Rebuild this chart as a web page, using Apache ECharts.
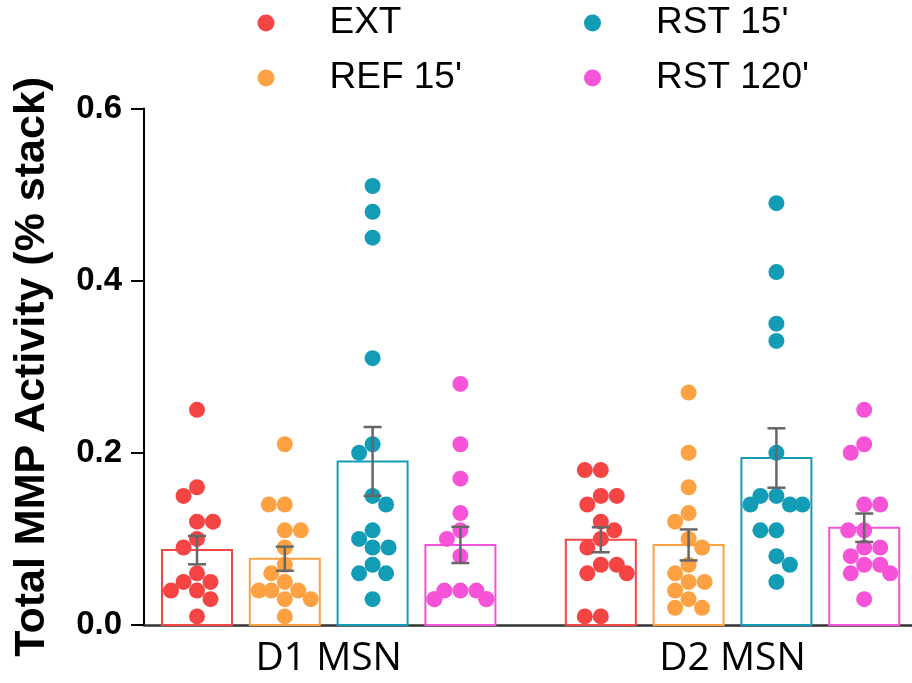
<!DOCTYPE html>
<html>
<head>
<meta charset="utf-8">
<script src="https://cdn.jsdelivr.net/npm/echarts@6/dist/echarts.min.js"></script>
<style>html,body{margin:0;padding:0;background:#fff}#c{width:912px;height:683px}</style>
</head>
<body>
<div id="c"></div>
<script>
// ---- data ----
const categories = ['D1 MSN', 'D2 MSN'];
const groupNames = ['EXT', "REF 15'", "RST 15'", "RST 120'"];
const yTicks = [0, 0.2, 0.4, 0.6];

const extD1    = [0.25,0.16,0.15,0.12,0.12,0.10,0.09,0.06,0.05,0.05,0.04,0.04,0.03,0.01];
const extD2    = [0.18,0.18,0.15,0.15,0.14,0.12,0.11,0.10,0.09,0.07,0.07,0.06,0.06,0.01,0.01];
const refD1    = [0.21,0.14,0.14,0.11,0.11,0.09,0.07,0.06,0.05,0.04,0.04,0.04,0.03,0.03,0.01];
const refD2    = [0.27,0.20,0.16,0.13,0.12,0.10,0.09,0.07,0.06,0.05,0.05,0.04,0.03,0.02,0.02];
const rst15D1  = [0.51,0.48,0.45,0.31,0.21,0.20,0.15,0.14,0.11,0.10,0.09,0.09,0.07,0.06,0.06,0.03];
const rst15D2  = [0.49,0.41,0.35,0.33,0.20,0.15,0.15,0.14,0.14,0.14,0.11,0.11,0.08,0.07,0.05];
const rst120D1 = [0.28,0.21,0.17,0.13,0.11,0.10,0.08,0.04,0.04,0.04,0.03,0.03,0.03,0.03];
const rst120D2 = [0.25,0.21,0.20,0.14,0.14,0.11,0.11,0.09,0.09,0.08,0.07,0.07,0.06,0.06,0.03];

const extMean    = [0.087, 0.099];
const refMean    = [0.077, 0.093];
const rst15Mean  = [0.190, 0.194];
const rst120Mean = [0.093, 0.113];
const extSem     = [0.0165, 0.0145];
const refSem     = [0.014, 0.018];
const rst15Sem   = [0.040, 0.0345];
const rst120Sem  = [0.021, 0.0165];

// ---- styling / layout ----
const colors = ['#F54444', '#FDA143', '#129CB6', '#F653D8'];
const BAR_W = 70;        // px
const BAR_PITCH = 87.8;  // px
const DOT = 16;          // px
const points = [[extD1, extD2], [refD1, refD2], [rst15D1, rst15D2], [rst120D1, rst120D2]];
const means = [extMean, refMean, rst15Mean, rst120Mean];
const sems = [extSem, refSem, rst15Sem, rst120Sem];

const chart = echarts.init(document.getElementById('c'), null, {renderer: 'canvas'});

function barSeries(k) {
  return {
    type: 'custom', name: groupNames[k], z: 1, clip: false,
    itemStyle: {color: colors[k]},
    data: categories.map((c, i) => [i, means[k][i], sems[k][i]]),
    renderItem: function (params, api) {
      const base = api.coord([api.value(0), 0]);
      const top = api.coord([api.value(0), api.value(1)]);
      const cx = base[0] + (k - 1.5) * BAR_PITCH;
      return {
        type: 'rect',
        shape: {x: cx - BAR_W / 2, y: top[1], width: BAR_W, height: base[1] - top[1]},
        style: {fill: '#ffffff', stroke: colors[k], lineWidth: 2}
      };
    }
  };
}
function errSeries(k) {
  return {
    type: 'custom', name: groupNames[k], z: 5, clip: false,
    itemStyle: {color: colors[k]},
    data: categories.map((c, i) => [i, means[k][i], sems[k][i]]),
    renderItem: function (params, api) {
      const x = api.value(0), m = api.value(1), s = api.value(2);
      const hi = api.coord([x, m + s]);
      const lo = api.coord([x, m - s]);
      const cx = hi[0] + (k - 1.5) * BAR_PITCH;
      const st = {stroke: '#666666', lineWidth: 2.5};
      const cap = 9;
      return {
        type: 'group',
        children: [
          {type: 'line', shape: {x1: cx, y1: hi[1], x2: cx, y2: lo[1]}, style: st},
          {type: 'line', shape: {x1: cx - cap, y1: hi[1], x2: cx + cap, y2: hi[1]}, style: st},
          {type: 'line', shape: {x1: cx - cap, y1: lo[1], x2: cx + cap, y2: lo[1]}, style: st}
        ]
      };
    }
  };
}

const baseOption = {
  animation: false,
  backgroundColor: '#ffffff',
  grid: {left: 144, right: 0, top: 108.5, bottom: 58, containLabel: false},
  legend: [
    {
      orient: 'vertical', left: 252.5, top: -2, itemGap: 15, itemWidth: 17, itemHeight: 17,
      selectedMode: false,
      data: [0, 1].map(k => ({name: groupNames[k], icon: 'circle', itemStyle: {color: colors[k]}})),
      textStyle: {fontSize: 37, fontFamily: 'Liberation Sans', color: '#000', lineHeight: 40, padding: [0, 0, 0, 50]}
    },
    {
      orient: 'vertical', left: 579, top: -2, itemGap: 15, itemWidth: 17, itemHeight: 17,
      selectedMode: false,
      data: [2, 3].map(k => ({name: groupNames[k], icon: 'circle', itemStyle: {color: colors[k]}})),
      textStyle: {fontSize: 37, fontFamily: 'Liberation Sans', color: '#000', lineHeight: 40, padding: [0, 0, 0, 50]}
    }
  ],
  xAxis: {
    type: 'value', min: -0.4574, max: 1.4445,
    axisLine: {show: true, onZero: false, lineStyle: {color: '#333', width: 2.5}},
    axisTick: {show: false},
    splitLine: {show: false},
    axisLabel: {
      show: true, customValues: [0, 1], margin: 14,
      fontFamily: 'Open Sans', fontSize: 39, color: '#000',
      formatter: v => categories[Math.round(v)] || ''
    }
  },
  yAxis: {
    type: 'value', min: yTicks[0], max: yTicks[yTicks.length - 1], interval: 0.2,
    name: 'Total MMP Activity (% stack)', nameLocation: 'middle', nameRotate: 90, nameGap: 90,
    nameTextStyle: {fontFamily: 'Liberation Sans', fontWeight: 'bold', fontSize: 43, color: '#000'},
    axisLine: {show: true, onZero: false, lineStyle: {color: '#000', width: 2}},
    axisTick: {show: true, length: 13, lineStyle: {color: '#000', width: 2}},
    splitLine: {show: false},
    axisLabel: {
      margin: 22, fontFamily: 'Liberation Sans', fontWeight: 'bold', fontSize: 33, color: '#000',
      formatter: v => v.toFixed(1)
    }
  },
  series: [0, 1, 2, 3].map(barSeries).concat([0, 1, 2, 3].map(errSeries))
};
chart.setOption(baseOption);

// ---- beeswarm placement of dots, computed in pixel space via the axes' scales ----
const p00 = chart.convertToPixel({gridIndex: 0}, [0, 0]);
const p11 = chart.convertToPixel({gridIndex: 0}, [1, 0.6]);
const pxPerX = p11[0] - p00[0];
const pxPerY = (p00[1] - p11[1]) / 0.6;

function swarm(vals) {
  const D = 16, maxOff = BAR_W / 2 - DOT / 2 - 1;
  const pts = vals.map(v => ({v: v, y: v * pxPerY, x: 0})).sort((a, b) => b.v - a.v);
  const placed = [];
  let lastSign = 1;
  pts.forEach(p => {
    const cands = [0];
    placed.forEach(q => {
      const dy = Math.abs(p.y - q.y);
      if (dy < D) {
        const dx = Math.sqrt(D * D - dy * dy);
        cands.push(q.x + dx, q.x - dx);
      }
    });
    const ok = cands.filter(x => placed.every(q => (x - q.x) ** 2 + (p.y - q.y) ** 2 >= D * D - 1e-6));
    ok.sort((a, b) => {
      const d = Math.abs(a) - Math.abs(b);
      if (Math.abs(d) > 1e-6) return d;
      return (Math.sign(a) === -lastSign ? -1 : 1);
    });
    let x = ok.length ? ok[0] : 0;
    if (Math.abs(x) > maxOff) x = Math.sign(x) * maxOff;
    if (x !== 0) lastSign = Math.sign(x);
    p.x = x;
    placed.push(p);
  });
  return pts;
}

const scatterSeries = [0, 1, 2, 3].map(k => {
  const data = [];
  categories.forEach((c, i) => {
    swarm(points[k][i]).forEach(p => {
      data.push([i + ((k - 1.5) * BAR_PITCH + p.x) / pxPerX, p.v]);
    });
  });
  return {
    type: 'scatter', name: groupNames[k], z: 3, symbol: 'circle', symbolSize: DOT,
    itemStyle: {color: colors[k], opacity: 1}, data: data, clip: false
  };
});

chart.setOption({series: baseOption.series.concat(scatterSeries)});
</script>
</body>
</html>
